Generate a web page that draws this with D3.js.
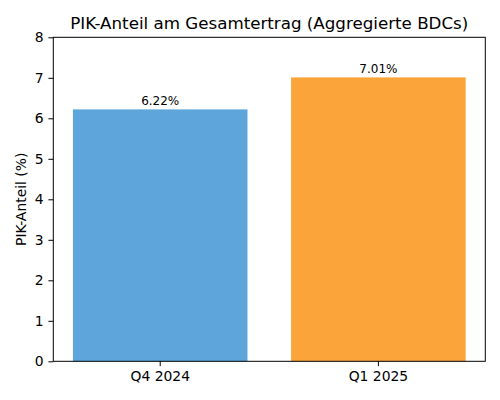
<!DOCTYPE html>
<html><head><meta charset="utf-8">
<script src="https://cdn.jsdelivr.net/npm/d3@7"></script>
<style>body{margin:0;background:#fff}svg{display:block}text{font-family:"DejaVu Sans",sans-serif;fill:#000}</style>
</head><body>
<svg id="c" width="500" height="400"></svg>
<script>
const categories = ["Q4 2024", "Q1 2025"];
const values = [6.22, 7.01];
const labels = ["6.22%", "7.01%"];
const colors = ["#5DA5DA", "#FAA43A"];
const yTicks = [0, 1, 2, 3, 4, 5, 6, 7, 8];
const title = "PIK-Anteil am Gesamtertrag (Aggregierte BDCs)";
const yLabel = "PIK-Anteil (%)";

const svg = d3.select("#c");
const L = 53.3, R = 485.3, T = 37.3, B = 361.3;
const x = d3.scaleBand().domain(categories).range([L, R]).paddingInner(0.2).paddingOuter(0.09);
const y = d3.scaleLinear().domain([0, 8]).range([B, T]);

svg.append("g").selectAll("rect").data(values).join("rect")
  .attr("x", (d, i) => x(categories[i]))
  .attr("width", x.bandwidth())
  .attr("y", d => y(d))
  .attr("height", d => B - y(d))
  .attr("fill", (d, i) => colors[i]);

svg.append("g").selectAll("text").data(values).join("text")
  .attr("x", (d, i) => x(categories[i]) + x.bandwidth() / 2)
  .attr("y", d => y(d) - 4.5)
  .attr("text-anchor", "middle")
  .attr("font-size", "12px")
  .text((d, i) => labels[i]);

const yAxis = svg.append("g").attr("transform", `translate(${L},0)`)
  .call(d3.axisLeft(y).tickValues(yTicks).tickSize(4.9).tickPadding(4.9).tickFormat(d3.format("d")));
const xAxis = svg.append("g").attr("transform", `translate(0,${B})`)
  .call(d3.axisBottom(x).tickSize(4.9).tickPadding(4.9));
[yAxis, xAxis].forEach(a => {
  a.select(".domain").remove();
  a.selectAll("line").attr("stroke", "#000").attr("stroke-width", 1);
  a.selectAll("text").attr("font-size", "13.9px").attr("font-family", "DejaVu Sans").attr("fill", "#000");
});

svg.append("rect").attr("x", L).attr("y", T).attr("width", R - L).attr("height", B - T)
  .attr("fill", "none").attr("stroke", "#000").attr("stroke-width", 1);

svg.append("text").attr("x", (L + R) / 2).attr("y", 29).attr("text-anchor", "middle")
  .attr("font-size", "16.7px").text(title);

svg.append("text").attr("transform", `translate(26,${(T + B) / 2}) rotate(-90)`)
  .attr("text-anchor", "middle").attr("font-size", "13.9px").text(yLabel);
</script>
</body></html>
